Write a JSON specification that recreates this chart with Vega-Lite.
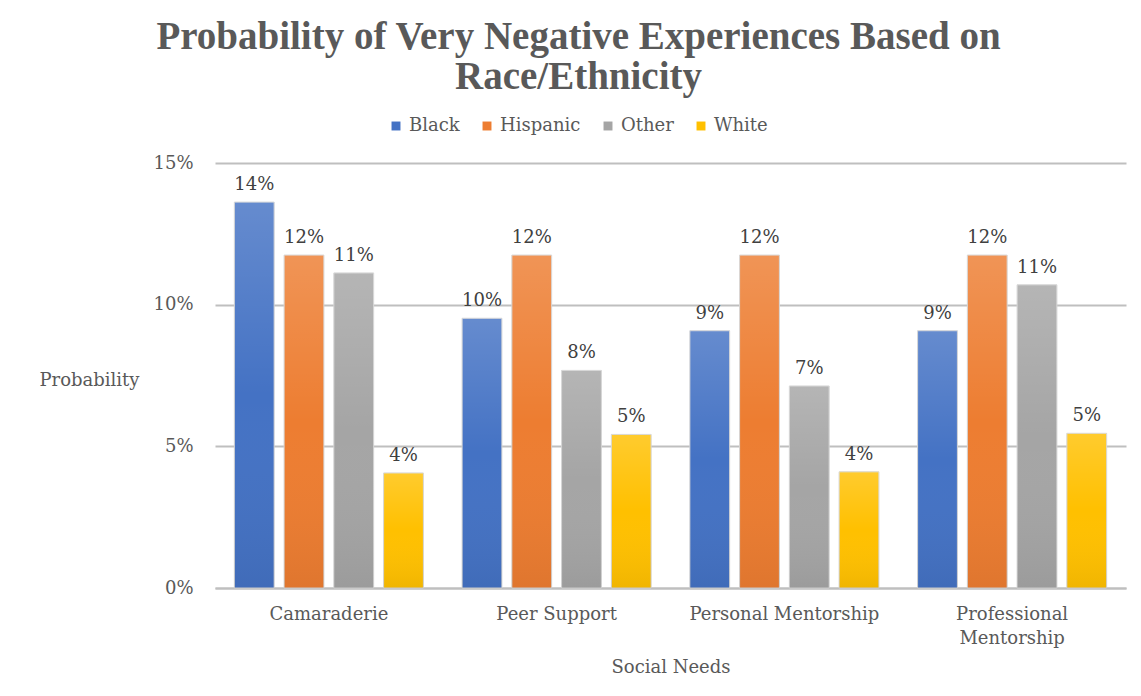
{
  "$schema": "https://vega.github.io/schema/vega-lite/v6.json",
  "width": 911,
  "height": 425,
  "autosize": "none",
  "padding": {"left": 215, "top": 163, "right": 15, "bottom": 108},
  "background": "white",
  "title": {
    "text": ["Probability of Very Negative Experiences Based on", "Race/Ethnicity"],
    "font": "Liberation Serif",
    "fontSize": 39,
    "fontWeight": "bold",
    "color": "#595959",
    "anchor": "middle",
    "frame": "group",
    "dx": -92,
    "baseline": "bottom",
    "lineHeight": 40,
    "offset": -19
  },
  "data": {
    "values": [
      {"need": "Camaraderie", "race": "Black", "p": 0.1362},
      {"need": "Camaraderie", "race": "Hispanic", "p": 0.1175},
      {"need": "Camaraderie", "race": "Other", "p": 0.1112},
      {"need": "Camaraderie", "race": "White", "p": 0.0406},
      {"need": "Peer Support", "race": "Black", "p": 0.0952},
      {"need": "Peer Support", "race": "Hispanic", "p": 0.1175},
      {"need": "Peer Support", "race": "Other", "p": 0.0768},
      {"need": "Peer Support", "race": "White", "p": 0.0542},
      {"need": "Personal Mentorship", "race": "Black", "p": 0.0908},
      {"need": "Personal Mentorship", "race": "Hispanic", "p": 0.1175},
      {"need": "Personal Mentorship", "race": "Other", "p": 0.0713},
      {"need": "Personal Mentorship", "race": "White", "p": 0.0410},
      {"need": "Professional Mentorship", "race": "Black", "p": 0.0908},
      {"need": "Professional Mentorship", "race": "Hispanic", "p": 0.1175},
      {"need": "Professional Mentorship", "race": "Other", "p": 0.1070},
      {"need": "Professional Mentorship", "race": "White", "p": 0.0546}
    ]
  },
  "encoding": {
    "x": {
      "field": "need",
      "type": "nominal",
      "sort": null,
      "scale": {"paddingInner": 0.17, "paddingOuter": 0.085},
      "axis": {
        "title": "Social Needs",
        "labelAngle": 0,
        "labelLimit": 400,
        "labelExpr": "datum.label == 'Professional Mentorship' ? ['Professional', 'Mentorship'] : datum.label",
        "labelLineHeight": 24,
        "labelPadding": 17,
        "labelBaseline": "top",
        "ticks": false,
        "domainColor": "#BFBFBF",
        "domainWidth": 2,
        "titlePadding": 11
      }
    },
    "xOffset": {"field": "race", "type": "nominal", "scale": {"paddingInner": 0.2}},
    "y": {
      "field": "p",
      "type": "quantitative",
      "scale": {"domain": [0, 0.15]},
      "axis": {
        "title": "Probability",
        "values": [0, 0.05, 0.1, 0.15],
        "format": ".0%",
        "domain": false,
        "ticks": false,
        "labelPadding": 22,
        "gridColor": "#BFBFBF",
        "gridWidth": 2,
        "titleAngle": 0,
        "titleAlign": "center",
        "titleBaseline": "middle",
        "titleX": -126,
        "titleY": 217
      }
    }
  },
  "layer": [
    {
      "mark": {"type": "bar", "stroke": "#d4d4d4", "strokeWidth": 1},
      "encoding": {
        "color": {
          "field": "race",
          "type": "nominal",
          "scale": {
            "domain": ["Black", "Hispanic", "Other", "White"],
            "range": ["#4472C4", "#ED7D31", "#A5A5A5", "#FFC000"]
          },
          "legend": {
            "title": null,
            "orient": "none",
            "direction": "horizontal",
            "legendX": 172,
            "legendY": -46,
            "symbolType": "square",
            "symbolSize": 80,
            "symbolStrokeWidth": 0,
            "symbolOpacity": 1,
            "labelOffset": 4,
            "columnPadding": 18
          }
        }
      }
    },
    {
      "mark": {
        "type": "bar",
        "color": {
          "gradient": "linear",
          "x1": 0, "y1": 0, "x2": 0, "y2": 1,
          "stops": [
            {"offset": 0, "color": "rgba(255,255,255,0.18)"},
            {"offset": 0.5, "color": "rgba(255,255,255,0)"},
            {"offset": 1, "color": "rgba(0,0,0,0.06)"}
          ]
        }
      },
      "encoding": {}
    },
    {
      "mark": {"type": "text", "baseline": "bottom", "dy": -8, "font": "DejaVu Serif", "fontSize": 18, "color": "#404040"},
      "encoding": {
        "text": {"field": "p", "type": "quantitative", "format": ".0%"}
      }
    }
  ],
  "config": {
    "view": {"stroke": null},
    "axis": {
      "labelFont": "DejaVu Serif",
      "labelFontSize": 18,
      "labelColor": "#595959",
      "titleFont": "DejaVu Serif",
      "titleFontSize": 18,
      "titleFontWeight": "normal",
      "titleColor": "#595959"
    },
    "legend": {
      "labelFont": "DejaVu Serif",
      "labelFontSize": 18,
      "labelColor": "#595959"
    }
  }
}
